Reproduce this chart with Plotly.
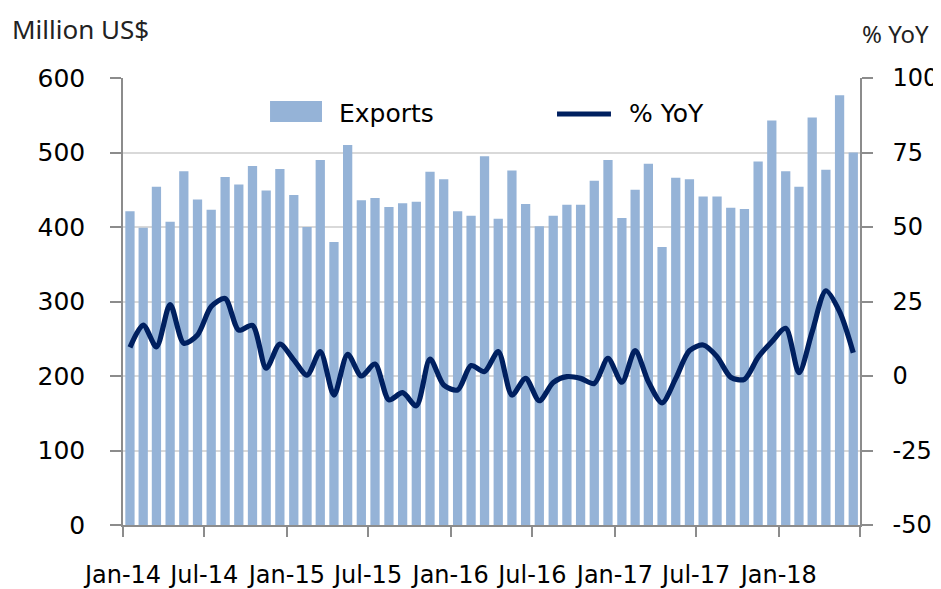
import plotly.graph_objects as go
import pandas as pd

months = pd.date_range("2014-01-01", periods=54, freq="MS")

exports = [421, 399, 454, 407, 475, 437, 423, 467, 457, 482, 449, 478,
           443, 400, 490, 380, 510, 436, 439, 427, 432, 434, 474, 464,
           421, 415, 495, 411, 476, 431, 401, 415, 430, 430, 462, 490,
           412, 450, 485, 373, 466, 464, 441, 441, 426, 424, 488, 543,
           475, 454, 547, 477, 577, 500]

yoy = [9.6, 17.1, 9.8, 24.0, 11.0, 13.8, 23.3, 26.0, 15.4, 17.0, 2.6, 10.7,
       5.4, 0.3, 8.2, -6.4, 7.3, 0.0, 4.0, -8.0, -5.6, -10.0, 5.7, -3.0,
       -4.7, 3.5, 1.5, 8.2, -6.4, -0.8, -8.3, -2.2, -0.2, -0.8, -2.5, 5.9,
       -2.1, 8.5, -1.9, -9.0, -0.8, 8.5, 10.4, 6.5, -0.4, -1.1, 6.3, 11.5,
       16.0, 1.1, 14.9, 28.6, 21.6, 7.8]

tick_dates = ["2014-01-01", "2014-07-01", "2015-01-01", "2015-07-01", "2016-01-01",
              "2016-07-01", "2017-01-01", "2017-07-01", "2018-01-01", "2018-07-01"]
tick_text = ["Jan-14", "Jul-14", "Jan-15", "Jul-15", "Jan-16",
             "Jul-16", "Jan-17", "Jul-17", "Jan-18", ""]

y1_ticks = [0, 100, 200, 300, 400, 500, 600]
y2_ticks = [-50, -25, 0, 25, 50, 75, 100]
y2_text = ["-50", "-25", "0", "25", "50", "75", "100"]

BAR_COLOR = "#95B3D7"
LINE_COLOR = "#002060"
AXIS_COLOR = "#8C8C8C"
FONT = "DejaVu Sans"
TITLE_FONT = "Noto Sans"

fig = go.Figure()
fig.add_trace(go.Bar(
    x=months, y=exports, name="Exports",
    xperiod="M1", xperiodalignment="middle",
    marker=dict(color=BAR_COLOR, line=dict(width=0)),
    showlegend=False, yaxis="y",
))
fig.add_trace(go.Scatter(
    x=months, y=yoy, name="% YoY", mode="lines",
    xperiod="M1", xperiodalignment="middle",
    line=dict(color=LINE_COLOR, width=5.2, shape="spline", smoothing=0.8),
    showlegend=False, yaxis="y2",
))

# Legend drawn manually (wide swatches as in reference)
fig.add_shape(type="rect", xref="paper", yref="paper",
              x0=0.1995, x1=0.270, y0=0.9016, y1=0.9485,
              fillcolor=BAR_COLOR, line=dict(width=0))
fig.add_shape(type="line", xref="paper", yref="paper",
              x0=0.5889, x1=0.6621, y0=0.9195, y1=0.9195,
              line=dict(color=LINE_COLOR, width=5.2))
fig.add_annotation(text="Exports", xref="paper", yref="paper", x=0.2904, y=0.9217,
                   xanchor="left", yanchor="middle", showarrow=False,
                   font=dict(family=FONT, size=25, color="#000000"))
fig.add_annotation(text="% YoY", xref="paper", yref="paper", x=0.6839, y=0.9217,
                   xanchor="left", yanchor="middle", showarrow=False,
                   font=dict(family=FONT, size=25, color="#000000"))
fig.add_annotation(text="Million US$", xref="paper", yref="paper", x=-0.1533, y=1.1107,
                   xanchor="left", yanchor="middle", showarrow=False,
                   font=dict(family=TITLE_FONT, size=26, color="#222222"))
fig.add_annotation(text="% YoY", xref="paper", yref="paper", x=1.0, y=1.0997,
                   xanchor="left", yanchor="middle", showarrow=False,
                   font=dict(family=TITLE_FONT, size=24, color="#222222"))

# the page body has an 8px margin; size the figure so the plot area lands where the reference has it
fig.update_layout(
    width=933, height=581, autosize=False,
    margin=dict(l=115, r=81, t=70, b=64),
    paper_bgcolor="white", plot_bgcolor="white",
    bargap=0.3,
    font=dict(family=FONT, size=25, color="#000000"),
    xaxis=dict(
        type="date", range=["2014-01-01", "2018-07-01"],
        tickvals=tick_dates, ticktext=tick_text, automargin=False,
        ticks="outside", ticklen=10, tickwidth=1.5, tickcolor=AXIS_COLOR,
        showline=True, linecolor=AXIS_COLOR, linewidth=1.5,
        showgrid=False, zeroline=False, ticklabelstandoff=17,
        tickfont=dict(family=FONT, size=24),
    ),
    yaxis=dict(
        range=[0, 600], tickvals=y1_ticks,
        automargin=False,
        ticks="outside", ticklen=11, tickwidth=1.5, tickcolor=AXIS_COLOR,
        showline=True, linecolor=AXIS_COLOR, linewidth=1.5,
        showgrid=True, gridcolor="#D9D9D9", gridwidth=1.5, zeroline=False,
        ticklabelstandoff=20, tickfont=dict(family=FONT, size=25),
    ),
    yaxis2=dict(
        range=[-50, 100], tickvals=y2_ticks, ticktext=y2_text,
        overlaying="y", side="right", automargin=False,
        ticks="outside", ticklen=11, tickwidth=1.5, tickcolor=AXIS_COLOR,
        showline=True, linecolor=AXIS_COLOR, linewidth=1.5,
        showgrid=False, zeroline=False,
        ticklabelstandoff=15, tickfont=dict(family=FONT, size=24),
    ),
)

fig.write_html("out.html")
